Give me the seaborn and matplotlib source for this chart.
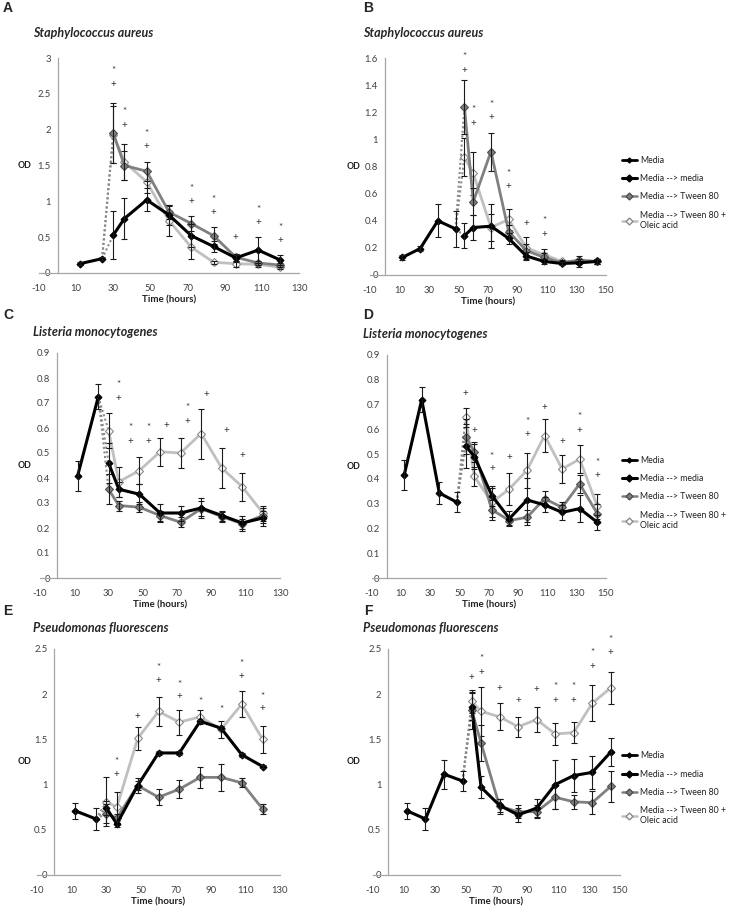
import matplotlib
matplotlib.use("Agg")
import matplotlib.pyplot as plt
from matplotlib.lines import Line2D
import numpy as np
import pandas as pd
import seaborn as sns

# ---------------- data ----------------
# panel A  (S. aureus, transfer at 24 h)
A_pre_t = [12, 24]
A_pre = [0.13, 0.20]
A_pre_err = [0.02, 0.02]
A_t = [30, 36, 48, 60, 72, 84, 96, 108, 120]
A_mm = [0.53, 0.76, 1.02, 0.81, 0.52, 0.37, 0.21, 0.32, 0.18]
A_mm_err = [0.33, 0.28, 0.16, 0.14, 0.16, 0.08, 0.05, 0.18, 0.07]
A_tw = [1.95, 1.50, 1.42, 0.85, 0.69, 0.52, 0.22, 0.14, 0.11]
A_tw_err = [0.42, 0.20, 0.13, 0.10, 0.10, 0.12, 0.05, 0.03, 0.03]
A_ol = [1.93, 1.55, 1.27, 0.73, 0.36, 0.15, 0.13, 0.12, 0.08]
A_ol_err = [0.40, 0.25, 0.15, 0.21, 0.17, 0.02, 0.04, 0.03, 0.02]
A_star_x = [30, 36, 48, 72, 84, 108, 120]
A_star_y = [2.83, 2.25, 1.95, 1.18, 1.02, 0.89, 0.64]
A_plus_x = [30, 36, 48, 72, 84, 96, 108, 120]
A_plus_y = [2.63, 2.06, 1.76, 1.00, 0.84, 0.49, 0.70, 0.45]

# panel B  (S. aureus, transfer at 48 h)
B_pre_t = [12, 24, 36, 48]
B_pre = [0.13, 0.195, 0.40, 0.34]
B_pre_err = [0.02, 0.02, 0.12, 0.13]
B_t = [54, 60, 72, 84, 96, 108, 120, 132, 144]
B_mm = [0.29, 0.35, 0.36, 0.27, 0.14, 0.10, 0.085, 0.09, 0.10]
B_mm_err = [0.09, 0.09, 0.16, 0.04, 0.03, 0.02, 0.01, 0.03, 0.02]
B_tw = [1.24, 0.54, 0.91, 0.32, 0.18, 0.13, 0.09, 0.11, 0.10]
B_tw_err = [0.20, 0.10, 0.14, 0.05, 0.05, 0.03, 0.01, 0.03, 0.02]
B_ol = [0.87, 0.75, 0.35, 0.41, 0.20, 0.15, 0.10, 0.10, 0.10]
B_ol_err = [0.14, 0.16, 0.10, 0.08, 0.08, 0.04, 0.01, 0.02, 0.02]
B_star_x = [54, 60, 72, 84, 108]
B_star_y = [1.61, 1.22, 1.26, 0.75, 0.40]
B_plus_x = [54, 60, 72, 84, 96, 108]
B_plus_y = [1.51, 1.12, 1.16, 0.65, 0.38, 0.30]

# panel C  (L. monocytogenes, transfer at 24 h)
C_pre_t = [12, 24]
C_pre = [0.41, 0.725]
C_pre_err = [0.06, 0.05]
C_t = [30, 36, 48, 60, 72, 84, 96, 108, 120]
C_mm = [0.46, 0.355, 0.335, 0.26, 0.26, 0.28, 0.25, 0.22, 0.24]
C_mm_err = [0.08, 0.03, 0.04, 0.035, 0.03, 0.04, 0.02, 0.03, 0.03]
C_tw = [0.355, 0.29, 0.283, 0.25, 0.223, 0.277, 0.246, 0.217, 0.25]
C_tw_err = [0.06, 0.02, 0.02, 0.02, 0.02, 0.03, 0.02, 0.02, 0.03]
C_ol = [0.59, 0.385, 0.43, 0.505, 0.50, 0.578, 0.44, 0.365, 0.26]
C_ol_err = [0.07, 0.06, 0.055, 0.055, 0.06, 0.10, 0.08, 0.055, 0.03]
C_star_x = [36, 43, 53, 76]
C_star_y = [0.775, 0.60, 0.60, 0.68]
C_plus_x = [36, 43, 53, 64, 76, 87, 99, 108]
C_plus_y = [0.72, 0.545, 0.545, 0.61, 0.625, 0.735, 0.59, 0.49]

# panel D  (L. monocytogenes, transfer at 48 h)
D_pre_t = [12, 24, 36, 48]
D_pre = [0.415, 0.72, 0.343, 0.306]
D_pre_err = [0.06, 0.05, 0.045, 0.04]
D_t = [54, 60, 72, 84, 96, 108, 120, 132, 144]
D_mm = [0.533, 0.49, 0.332, 0.24, 0.315, 0.295, 0.265, 0.28, 0.225]
D_mm_err = [0.09, 0.05, 0.04, 0.03, 0.09, 0.03, 0.03, 0.055, 0.03]
D_tw = [0.57, 0.51, 0.275, 0.232, 0.245, 0.32, 0.285, 0.38, 0.26]
D_tw_err = [0.07, 0.04, 0.04, 0.02, 0.03, 0.03, 0.02, 0.035, 0.04]
D_ol = [0.648, 0.41, 0.305, 0.36, 0.435, 0.575, 0.44, 0.48, 0.29]
D_ol_err = [0.04, 0.04, 0.06, 0.065, 0.07, 0.065, 0.055, 0.055, 0.05]
D_star_x = [72, 96, 132, 144]
D_star_y = [0.49, 0.63, 0.65, 0.465]
D_plus_x = [54, 60, 72, 84, 96, 108, 120, 132, 144]
D_plus_y = [0.745, 0.595, 0.44, 0.485, 0.58, 0.69, 0.55, 0.595, 0.415]

# panel E  (P. fluorescens, transfer at 24 h)
E_pre_t = [12, 24]
E_pre = [0.71, 0.62]
E_pre_err = [0.09, 0.12]
E_t = [30, 36, 48, 60, 72, 84, 96, 108, 120]
E_mm = [0.74, 0.565, 0.99, 1.35, 1.35, 1.70, 1.625, 1.33, 1.20]
E_mm_err = [0.08, 0.03, 0.05, 0.02, 0.02, 0.02, 0.02, 0.02, 0.02]
E_tw = [0.68, 0.63, 0.99, 0.86, 0.95, 1.08, 1.08, 1.02, 0.73]
E_tw_err = [0.10, 0.05, 0.08, 0.09, 0.10, 0.12, 0.15, 0.05, 0.06]
E_ol = [0.81, 0.75, 1.51, 1.81, 1.69, 1.75, 1.61, 1.89, 1.50]
E_ol_err = [0.27, 0.17, 0.13, 0.16, 0.14, 0.08, 0.09, 0.14, 0.15]
E_star_x = [36, 60, 72, 84, 96, 108, 120]
E_star_y = [1.26, 2.29, 2.11, 1.92, 1.83, 2.34, 1.98]
E_plus_x = [36, 48, 60, 72, 108, 120]
E_plus_y = [1.11, 1.75, 2.15, 1.97, 2.20, 1.84]

# panel F  (P. fluorescens, transfer at 48 h)
F_pre_t = [12, 24, 36, 48]
F_pre = [0.71, 0.62, 1.115, 1.04]
F_pre_err = [0.09, 0.12, 0.16, 0.11]
F_t = [54, 60, 72, 84, 96, 108, 120, 132, 144]
F_mm = [1.86, 0.97, 0.77, 0.665, 0.74, 1.00, 1.10, 1.135, 1.36]
F_mm_err = [0.15, 0.12, 0.07, 0.08, 0.10, 0.27, 0.18, 0.18, 0.15]
F_tw = [1.82, 1.46, 0.76, 0.70, 0.70, 0.86, 0.81, 0.80, 0.98]
F_tw_err = [0.20, 0.20, 0.08, 0.07, 0.07, 0.13, 0.08, 0.13, 0.17]
F_ol = [1.92, 1.81, 1.75, 1.64, 1.72, 1.56, 1.575, 1.90, 2.07]
F_ol_err = [0.13, 0.27, 0.15, 0.11, 0.14, 0.12, 0.12, 0.20, 0.18]
F_star_x = [60, 108, 120, 132, 144]
F_star_y = [2.39, 2.08, 2.08, 2.46, 2.60]
F_plus_x = [54, 60, 72, 84, 96, 108, 120, 132, 144]
F_plus_y = [2.18, 2.24, 2.06, 1.93, 2.05, 1.93, 1.93, 2.31, 2.46]

titles = ["Staphylococcus aureus", "Staphylococcus aureus",
          "Listeria monocytogenes", "Listeria monocytogenes",
          "Pseudomonas fluorescens", "Pseudomonas fluorescens"]
legend_labels = ["Media", "Media --> media", "Media --> Tween 80",
                 "Media --> Tween 80 +\nOleic acid"]

# ---------------- style ----------------
W, H = 737, 907
sns.set_theme(style="white")
plt.rcParams['font.family'] = ['Lato', 'DejaVu Sans']

C_MEDIA = "#000000"
C_TWEEN = "#808080"
C_OLEIC = "#c0c0c0"
C_AXIS = "#a6a6a6"
C_TEXT = "#404040"

fig = plt.figure(figsize=(W / 100, H / 100), dpi=100)


def px_axes(l, r, t, b):
    return fig.add_axes([l / W, 1 - b / H, (r - l) / W, (b - t) / H])


def series(ax, x, y, err, color, lw, ms, mfc, mec, z):
    ax.errorbar(x, y, yerr=err, fmt='none', ecolor='#1a1a1a', elinewidth=0.8,
                capsize=2, capthick=0.8, zorder=z + 1)
    sns.lineplot(x=x, y=y, ax=ax, color=color, lw=lw, marker='D', markersize=ms,
                 markerfacecolor=mfc, markeredgecolor=mec, markeredgewidth=0.8,
                 sort=False, errorbar=None, legend=False, zorder=z)


def panel(ax, d, xmax, ymax, ystep):
    (pre_t, pre, pre_err, t, mm, mm_err, tw, tw_err, ol, ol_err,
     sx, sy, px, py) = d
    # dotted transfer lines
    for ys in (mm, tw, ol):
        ax.plot([pre_t[-1], t[0]], [pre[-1], ys[0]], ls=(0, (1, 1.2)),
                color="#8a8a8a", lw=1.5, zorder=1)
    series(ax, pre_t, pre, pre_err, C_MEDIA, 2.2, 3.5, C_MEDIA, C_MEDIA, 5)
    series(ax, t, ol, ol_err, C_OLEIC, 2.0, 4, "white", "#8a8a8a", 2)
    series(ax, t, tw, tw_err, C_TWEEN, 2.0, 4, C_TWEEN, "#505050", 3)
    series(ax, t, mm, mm_err, C_MEDIA, 2.2, 3.5, C_MEDIA, C_MEDIA, 4)
    for x, y in zip(sx, sy):
        ax.text(x, y, "*", ha='center', va='center', fontsize=7,
                color='#333333', clip_on=False)
    for x, y in zip(px, py):
        ax.text(x, y, "+", ha='center', va='center', fontsize=7,
                color='#333333', clip_on=False)

    ax.set_xlim(-10, xmax)
    ax.set_ylim(0, ymax)
    ax.set_xticks(np.arange(-10, xmax + 1, 20))
    ax.set_yticks(np.arange(0, ymax + 1e-9, ystep))
    ax.xaxis.set_major_formatter(plt.FuncFormatter(lambda v, p: f"{v:g}"))
    ax.yaxis.set_major_formatter(plt.FuncFormatter(lambda v, p: f"{v:g}"))
    for s in ("top", "right"):
        ax.spines[s].set_visible(False)
    ax.spines['left'].set_position(('data', 0))
    for s in ("left", "bottom"):
        ax.spines[s].set_color(C_AXIS)
        ax.spines[s].set_linewidth(0.9)
    ax.tick_params(axis='both', direction='out', length=3, width=0.8,
                   color=C_AXIS, labelsize=6.8, labelcolor=C_TEXT, pad=2)
    ax.tick_params(axis='x', pad=5)
    ax.set_xlabel("")
    ax.set_ylabel("")


panels = [
    ("A", (A_pre_t, A_pre, A_pre_err, A_t, A_mm, A_mm_err, A_tw, A_tw_err, A_ol, A_ol_err,
           A_star_x, A_star_y, A_plus_x, A_plus_y), 130, 3.0, 0.5, (39, 299, 58, 273)),
    ("B", (B_pre_t, B_pre, B_pre_err, B_t, B_mm, B_mm_err, B_tw, B_tw_err, B_ol, B_ol_err,
           B_star_x, B_star_y, B_plus_x, B_plus_y), 150, 1.6, 0.2, (370, 606, 58, 275)),
    ("C", (C_pre_t, C_pre, C_pre_err, C_t, C_mm, C_mm_err, C_tw, C_tw_err, C_ol, C_ol_err,
           C_star_x, C_star_y, C_plus_x, C_plus_y), 130, 0.9, 0.1, (40, 280, 353, 578)),
    ("D", (D_pre_t, D_pre, D_pre_err, D_t, D_mm, D_mm_err, D_tw, D_tw_err, D_ol, D_ol_err,
           D_star_x, D_star_y, D_plus_x, D_plus_y), 150, 0.9, 0.1, (372, 606, 355, 578)),
    ("E", (E_pre_t, E_pre, E_pre_err, E_t, E_mm, E_mm_err, E_tw, E_tw_err, E_ol, E_ol_err,
           E_star_x, E_star_y, E_plus_x, E_plus_y), 130, 2.5, 0.5, (37, 280, 649, 875)),
    ("F", (F_pre_t, F_pre, F_pre_err, F_t, F_mm, F_mm_err, F_tw, F_tw_err, F_ol, F_ol_err,
           F_star_x, F_star_y, F_plus_x, F_plus_y), 150, 2.5, 0.5, (373, 620, 649, 875)),
]

# y positions (pixels from top) of the panel letters and titles
letter_y = [8, 8, 315, 315, 611, 611]
title_y = [33, 33, 332, 334, 628, 628]

legend_handles = [
    Line2D([], [], color=C_MEDIA, lw=2.0, marker='D', markersize=2.5),
    Line2D([], [], color=C_MEDIA, lw=2.2, marker='D', markersize=3.5),
    Line2D([], [], color=C_TWEEN, lw=1.8, marker='D', markersize=3.5,
           markerfacecolor=C_TWEEN, markeredgecolor="#505050"),
    Line2D([], [], color=C_OLEIC, lw=1.8, marker='D', markersize=3.5,
           markerfacecolor="white", markeredgecolor="#8a8a8a"),
]

for i, (letter, d, xmax, ymax, ystep, (l, r, t, b)) in enumerate(panels):
    ax = px_axes(l, r, t, b)
    panel(ax, d, xmax, ymax, ystep)
    col_x = 8 if i % 2 == 0 else 368
    title_x = 33 if i % 2 == 0 else 363
    od_x = 25 if i % 2 == 0 else 354
    fig.text(col_x / W, 1 - letter_y[i] / H, letter, fontsize=10, fontweight='bold',
             family='Liberation Sans', ha='center', va='center')
    fig.text(title_x / W, 1 - title_y[i] / H, titles[i], fontsize=9, fontweight='bold',
             fontstyle='italic', ha='left', va='center')
    fig.text(od_x / W, 1 - ((t + b) / 2) / H, "OD", fontsize=6.3, fontweight='bold',
             ha='center', va='center', color='#202020')
    fig.text(((l + r) / 2) / W, 1 - (b + 27) / H, "Time (hours)", fontsize=7,
             fontweight='bold', ha='center', va='center', color='#202020')
    if i % 2 == 1:
        leg = ax.legend(legend_handles, legend_labels, loc='upper left',
                        bbox_to_anchor=(618 / W, 1 - ((t + b) / 2 - 14) / H),
                        bbox_transform=fig.transFigure, frameon=False,
                        fontsize=6.3, handlelength=1.8, handletextpad=0.3,
                        labelspacing=1.05, borderaxespad=0)
        for txt in leg.get_texts():
            txt.set_color('#202020')

fig.savefig("out.png", dpi=100)
plt.close(fig)
